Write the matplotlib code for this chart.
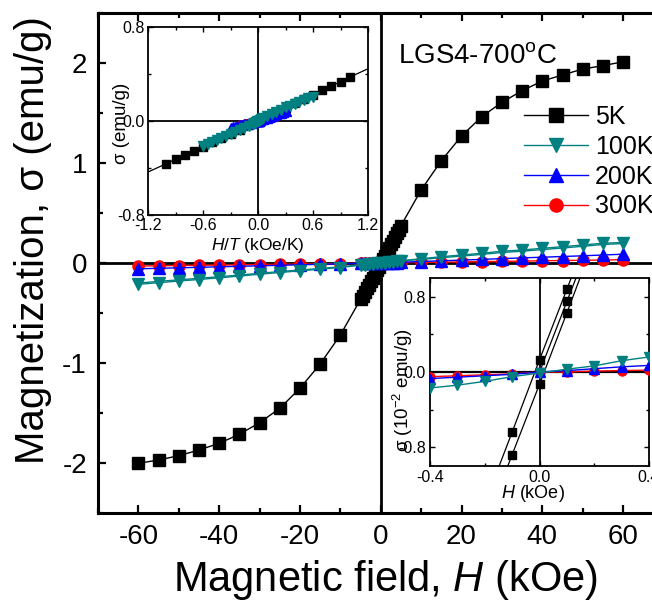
import numpy as np
import matplotlib
matplotlib.use('Agg')
import matplotlib.pyplot as plt
from matplotlib.lines import Line2D
from matplotlib.ticker import MultipleLocator, FixedLocator, FormatStrFormatter

plt.rcParams['font.family'] = ['Liberation Sans', 'DejaVu Sans']
plt.rcParams['mathtext.fontset'] = 'custom'
plt.rcParams['mathtext.rm'] = 'Liberation Sans'
plt.rcParams['mathtext.it'] = 'Liberation Sans:italic'
plt.rcParams['mathtext.bf'] = 'Liberation Sans:bold'
plt.rcParams['axes.unicode_minus'] = False

# ---------------- data ----------------
temps = [5, 100, 200, 300]
labels = ['5K', '100K', '200K', '300K']
colors = {'5K': '#000000', '100K': '#008080', '200K': '#0000FF', '300K': '#FF0000'}
markers = {'5K': 's', '100K': 'v', '200K': '^', '300K': 'o'}

H_5K = [-60, -55, -50, -45, -40, -35, -30, -25, -20, -15, -10, -5,
        -4.5, -4, -3.5, -3, -2.5, -2, -1.5, -1, -0.5, 0, 0.5, 1, 1.5, 2, 2.5, 3, 3.5, 4, 4.5,
        5, 10, 15, 20, 25, 30, 35, 40, 45, 50, 55, 60]
M_5K = [-2.003, -1.970, -1.927, -1.870, -1.803, -1.713, -1.597, -1.453, -1.253, -1.010, -0.720, -0.363,
        -0.326, -0.290, -0.254, -0.218, -0.182, -0.146, -0.110, -0.073, -0.037, 0.000, 0.037, 0.075,
        0.112, 0.150, 0.188, 0.225, 0.265, 0.298, 0.334,
        0.373, 0.730, 1.023, 1.270, 1.463, 1.607, 1.723, 1.820, 1.880, 1.940, 1.973, 2.013]

H_T = [-60, -55, -50, -45, -40, -35, -30, -25, -20, -15, -10,
       -5, -4, -3, -2, -1, 0, 1, 2, 3, 4, 5,
       10, 15, 20, 25, 30, 35, 40, 45, 50, 55, 60]
M_100K = [-0.213, -0.197, -0.180, -0.165, -0.148, -0.131, -0.112, -0.095, -0.078, -0.062, -0.045,
          -0.022, -0.018, -0.013, -0.009, -0.004, 0.000, 0.004, 0.009, 0.013, 0.018, 0.022,
          0.043, 0.063, 0.080, 0.097, 0.118, 0.130, 0.147, 0.163, 0.180, 0.198, 0.205]
M_100K_ret = [-0.200, -0.184, -0.168, -0.153, -0.137, -0.121, -0.103, -0.086, -0.070, -0.055, -0.038,
              -0.018, -0.014, -0.010, -0.006, -0.002, 0.002, 0.006, 0.010, 0.014, 0.018, 0.022,
              0.035, 0.053, 0.069, 0.086, 0.105, 0.118, 0.134, 0.150, 0.167, 0.185, 0.195]
M_200K = [-0.058, -0.053, -0.048, -0.043, -0.038, -0.033, -0.028, -0.023, -0.018, -0.013, -0.008,
          -0.004, -0.003, -0.002, -0.001, 0.000, 0.000, 0.001, 0.002, 0.003, 0.005, 0.007,
          0.015, 0.022, 0.029, 0.036, 0.044, 0.051, 0.058, 0.065, 0.072, 0.080, 0.088]
M_300K = [-0.030, -0.028, -0.025, -0.023, -0.020, -0.018, -0.015, -0.013, -0.010, -0.008, -0.005,
          -0.003, -0.002, -0.002, -0.001, 0.000, 0.000, 0.001, 0.001, 0.002, 0.002, 0.003,
          0.006, 0.008, 0.011, 0.014, 0.016, 0.019, 0.022, 0.025, 0.027, 0.030, 0.033]

# low-field inset (sigma in 1e-2 emu/g)
H_low = [-0.4, -0.3, -0.2, -0.1, 0.0, 0.1, 0.2, 0.3, 0.4]
S_100K_low = [-0.17, -0.14, -0.10, -0.05, -0.01, 0.03, 0.065, 0.12, 0.16]
S_200K_low = [-0.07, -0.055, -0.04, -0.025, 0.0, 0.015, 0.035, 0.055, 0.07]
S_300K_low = [-0.05, -0.04, -0.03, -0.02, 0.0, 0.0, 0.01, 0.015, 0.02]
H_5K_loop = [-0.2, -0.1, 0.0, 0.1, 0.2]
S_5K_desc = [-1.40, -0.64, 0.13, 0.88, 1.64]
S_5K_asc = [-1.64, -0.88, -0.13, 0.63, 1.40]
H_5K_virgin = [0.0, 0.1, 0.2]
S_5K_virgin = [0.0, 0.75, 1.50]

# ---------------- figure ----------------
W, Hh = 652, 611
fig = plt.figure(figsize=(W / 100, Hh / 100), dpi=100)


def rect(x0, y0, x1, y1):
    return [x0 / W, 1 - y1 / Hh, (x1 - x0) / W, (y1 - y0) / Hh]


ax = fig.add_axes(rect(98, 13, 663.5, 513))
ax.set_xlim(-70, 70)
ax.set_ylim(-2.5, 2.5)
ax.axvline(0, color='k', lw=2.0, zorder=1)
ax.axhline(0, color='k', lw=2.0, zorder=1)

ax.plot(H_5K, M_5K, color='k', lw=1.0, marker='s', ms=8, mfc='k', mec='k', zorder=3)
ax.plot(H_T, M_300K, color='red', lw=1.0, marker='o', ms=8, mec='red', zorder=4)
ax.plot(H_T, M_200K, color='blue', lw=1.0, marker='^', ms=9, mec='blue', zorder=5)
ax.plot(H_T, M_100K_ret, color='#008080', lw=1.0, zorder=6)
ax.plot(H_T, M_100K, color='#008080', lw=1.0, marker='v', ms=9, mec='#008080', zorder=6)

ax.xaxis.set_major_locator(MultipleLocator(20))
ax.xaxis.set_minor_locator(MultipleLocator(10))
ax.yaxis.set_major_locator(MultipleLocator(1))
ax.yaxis.set_minor_locator(MultipleLocator(0.5))
ax.tick_params(which='both', direction='in', top=True, right=True, width=1.6)
ax.tick_params(which='major', length=6, labelsize=20, pad=8)
ax.tick_params(which='minor', length=3.8)
for s in ax.spines.values():
    s.set_linewidth(2.2)

fig.text(33 / W, 1 - 240 / Hh, 'Magnetization, σ (emu/g)', rotation=90,
         ha='center', va='center', fontsize=29)
fig.text(386 / W, 1 - 580 / Hh, 'Magnetic field, $H$ (kOe)', ha='center', va='center', fontsize=30)

ax.text(4.3, 2.0, 'LGS4-700$^{\\rm o}$C', fontsize=20, ha='left', va='baseline', zorder=8)

handles = []
for lab in labels:
    ms = 10 if lab != '300K' else 9.5
    handles.append(Line2D([], [], color=colors[lab], lw=1.0, marker=markers[lab], ms=ms,
                          mfc=colors[lab], mec=colors[lab]))
leg = ax.legend(handles, labels, loc='upper left', bbox_to_anchor=(524 / W, 1 - 105 / Hh),
                bbox_transform=fig.transFigure, frameon=False, fontsize=18, borderpad=0,
                borderaxespad=0, handlelength=2.56, handletextpad=0.28, labelspacing=0.23)
leg.set_zorder(9)

# ---------------- inset 1: sigma vs H/T ----------------
a1 = fig.add_axes(rect(148, 27, 368, 215))
a1.set_xlim(-1.2, 1.2)
a1.set_ylim(-0.8, 0.8)
a1.axvline(0, color='k', lw=1.3, zorder=1)
a1.axhline(0, color='k', lw=1.3, zorder=1)
a1.plot(np.array(H_5K) / 5, M_5K, color='k', lw=0.9, marker='s', ms=5.5, zorder=3)
a1.plot(np.array(H_T) / 300, M_300K, color='red', lw=0.9, marker='o', ms=5.5, mec='red', zorder=4)
a1.plot(np.array(H_T) / 200, M_200K, color='blue', lw=0.9, marker='^', ms=6.5, mec='blue', zorder=5)
a1.plot(np.array(H_T) / 100, M_100K, color='#008080', lw=0.9, marker='v', ms=6.5, mec='#008080', zorder=6)
a1.xaxis.set_major_locator(FixedLocator([-1.2, -0.6, 0.0, 0.6, 1.2]))
a1.xaxis.set_minor_locator(MultipleLocator(0.3))
a1.yaxis.set_major_locator(FixedLocator([-0.8, 0.0, 0.8]))
a1.yaxis.set_minor_locator(MultipleLocator(0.4))
a1.xaxis.set_major_formatter(FormatStrFormatter('%.1f'))
a1.yaxis.set_major_formatter(FormatStrFormatter('%.1f'))
a1.tick_params(which='both', direction='in', top=True, right=True, width=1.0, labelsize=11.5, pad=2.5)
a1.tick_params(which='major', length=3.5)
a1.tick_params(which='minor', length=2.2)
for s in a1.spines.values():
    s.set_linewidth(1.3)
fig.text(257.5 / W, 1 - 246 / Hh, '$H$/$T$ (kOe/K)', ha='center', va='center', fontsize=12.5)
fig.text(121 / W, 1 - 123 / Hh, 'σ (emu/g)', rotation=90, ha='center', va='center', fontsize=13.5)

# ---------------- inset 2: low field ----------------
a2 = fig.add_axes(rect(430, 278, 649, 466))
a2.set_xlim(-0.4, 0.4)
a2.set_ylim(-1.0, 1.0)
a2.axvline(0, color='k', lw=1.3, zorder=1)
a2.axhline(0, color='k', lw=1.6, zorder=1)
a2.plot(H_5K_loop, S_5K_desc, color='k', lw=0.9, marker='s', ms=6, zorder=3)
a2.plot(H_5K_loop, S_5K_asc, color='k', lw=0.9, marker='s', ms=6, zorder=3)
a2.plot(H_5K_virgin, S_5K_virgin, color='k', lw=0.9, marker='s', ms=6, zorder=3)
a2.plot(H_low, S_300K_low, color='red', lw=1.0, marker='o', ms=6.5, mec='red', zorder=4)
a2.plot(H_low, S_200K_low, color='blue', lw=1.0, marker='^', ms=7, mec='blue', zorder=5)
a2.plot(H_low, S_100K_low, color='#008080', lw=1.0, marker='v', ms=7, mec='#008080', zorder=6)
a2.xaxis.set_major_locator(FixedLocator([-0.4, 0.0, 0.4]))
a2.xaxis.set_minor_locator(MultipleLocator(0.2))
a2.yaxis.set_major_locator(FixedLocator([-0.8, 0.0, 0.8]))
a2.yaxis.set_minor_locator(MultipleLocator(0.4))
a2.xaxis.set_major_formatter(FormatStrFormatter('%.1f'))
a2.yaxis.set_major_formatter(FormatStrFormatter('%.1f'))
a2.tick_params(which='both', direction='in', top=True, right=True, width=1.0, labelsize=11.5, pad=3)
a2.tick_params(which='major', length=3.5)
a2.tick_params(which='minor', length=2.2)
for s in a2.spines.values():
    s.set_linewidth(1.3)
fig.text(533 / W, 1 - 494 / Hh, '$H$ (kOe)', ha='center', va='center', fontsize=13)
fig.text(403 / W, 1 - 390 / Hh, 'σ (10$^{-2}$ emu/g)', rotation=90, ha='center', va='center', fontsize=13.5)

fig.savefig('out.png', dpi=100)
